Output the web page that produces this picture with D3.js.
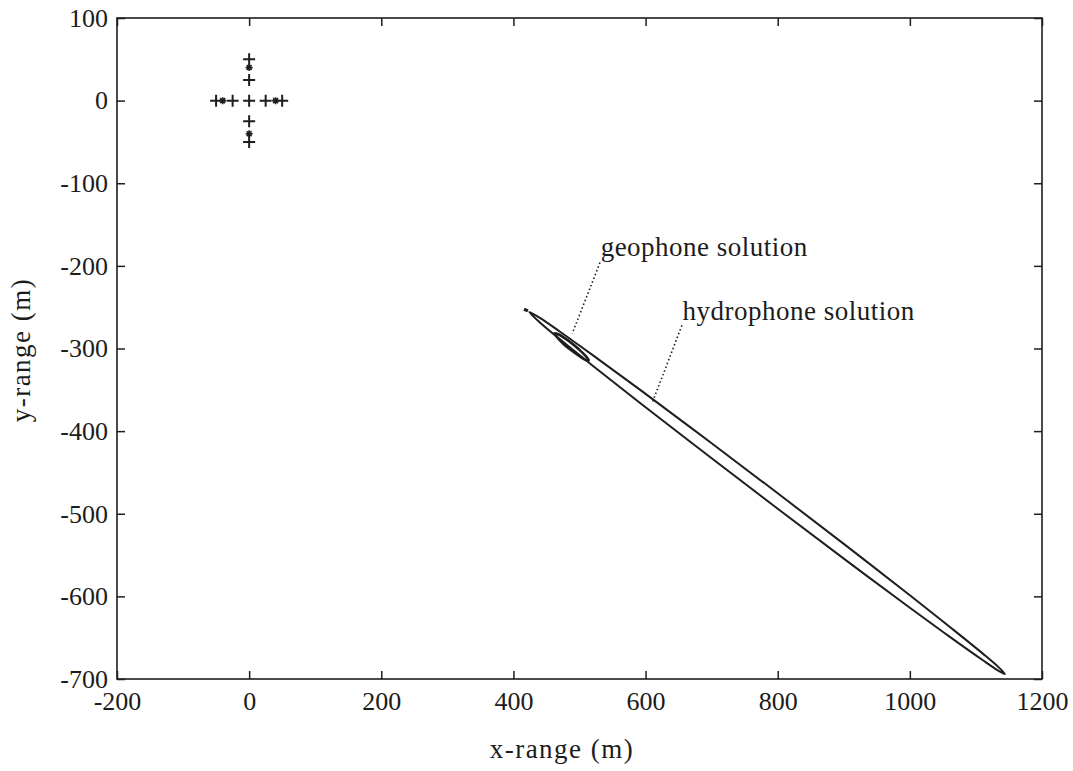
<!DOCTYPE html>
<html><head><meta charset="utf-8">
<script src="https://cdn.jsdelivr.net/npm/d3@7"></script>
<style>
body{margin:0;background:#fff}
text{font-family:"Liberation Serif","Times New Roman",serif;fill:#1c1c1c}
</style>
</head><body>
<svg id="c" width="1073" height="771"></svg>
<script>
// ---- data ----
const xTicks = [-200, 0, 200, 400, 600, 800, 1000, 1200];
const yTicks = [100, 0, -100, -200, -300, -400, -500, -600, -700];
const xLabel = "x-range (m)";
const yLabel = "y-range (m)";

// sensor array markers
const plusX = [0, 0, 0, 0, 0, -50, -25, 25, 50];
const plusY = [0, 50, 25, -25, -50, 0, 0, 0, 0];
const starX = [0, 0, -40, 40];
const starY = [40, -40, 0, 0];

// hydrophone solution contour
const hydroX = [424, 440, 470, 520, 600, 700, 800, 900, 1000, 1060, 1110, 1135, 1144,
                1135, 1110, 1060, 1000, 900, 800, 700, 600, 520, 470, 440];
const hydroY = [-256, -262.9, -279.4, -308, -354.9, -414.7, -475.2, -536.5, -598.7, -636.7, -669, -686.2, -694,
                -690.4, -677, -648.7, -613.7, -554.3, -494, -432.9, -371.1, -320.8, -288.6, -268.5];
const hydroTipX = [416, 422];
const hydroTipY = [-252.5, -254.5];

// geophone solution contour
const geoX = [462, 468, 477, 488, 499, 508, 514, 508, 499, 488, 477, 468];
const geoY = [-281.6, -282.8, -287.2, -293.5, -301, -307.9, -314.4, -313.5, -308.8, -302.5, -295.4, -288.2];

// annotations
const annText = ["geophone solution", "hydrophone solution"];
const annTextX = [532, 656];
const annTextY = [-188, -266];
const annLeadX1 = [531, 655];
const annLeadY1 = [-196, -272];
const annLeadX2 = [489, 610];
const annLeadY2 = [-282, -366];

// ---- layout ----
const svg = d3.select("#c");
const L = 117, R = 1042, T = 18, B = 679;
const x = d3.scaleLinear().domain([-200, 1200]).range([L, R]);
const y = d3.scaleLinear().domain([-700, 100]).range([B, T]);
const ink = "#1c1f1e";
const fmt = d => String(d);

// frame
svg.append("rect").attr("x", L).attr("y", T).attr("width", R - L).attr("height", B - T)
  .attr("fill", "none").attr("stroke", ink).attr("stroke-width", 1.6);

const tl = 8;
// axes with inward ticks
const gx = svg.append("g").attr("transform", `translate(0,${B})`)
  .call(d3.axisBottom(x).tickValues(xTicks).tickSizeInner(-tl).tickSizeOuter(0).tickPadding(11).tickFormat(fmt));
const gxt = svg.append("g").attr("transform", `translate(0,${T})`)
  .call(d3.axisTop(x).tickValues(xTicks).tickSizeInner(-tl).tickSizeOuter(0).tickFormat(""));
const gy = svg.append("g").attr("transform", `translate(${L},0)`)
  .call(d3.axisLeft(y).tickValues(yTicks).tickSizeInner(-tl).tickSizeOuter(0).tickPadding(9).tickFormat(fmt));
const gyr = svg.append("g").attr("transform", `translate(${R},0)`)
  .call(d3.axisRight(y).tickValues(yTicks).tickSizeInner(-tl).tickSizeOuter(0).tickFormat(""));
[gx, gxt, gy, gyr].forEach(g => {
  g.select(".domain").remove();
  g.selectAll("line").attr("stroke", ink).attr("stroke-width", 1.5);
  g.selectAll("text").attr("font-size", 26).attr("font-family", "Liberation Serif, serif").attr("fill", ink);
});
gx.selectAll("text").attr("dy", "0.75em");

// axis labels
svg.append("text").attr("x", 562).attr("y", 758).attr("text-anchor", "middle")
  .attr("font-size", 27).attr("letter-spacing", 1.5).text(xLabel);
svg.append("text").attr("transform", `translate(30,350) rotate(-90)`)
  .attr("text-anchor", "middle").attr("font-size", 27).attr("letter-spacing", 1.5).text(yLabel);

// markers
const g = svg.append("g").attr("stroke", ink).attr("fill", "none");
const ps = 6;
g.selectAll("path.plus").data(plusX.map((d, i) => [d, plusY[i]])).join("path")
  .attr("class", "plus").attr("stroke-width", 2)
  .attr("d", d => { const cx = x(d[0]), cy = y(d[1]);
    return `M${cx - ps},${cy}H${cx + ps}M${cx},${cy - ps}V${cy + ps}`; });
const ss = 3.5;
g.selectAll("path.star").data(starX.map((d, i) => [d, starY[i]])).join("path")
  .attr("class", "star").attr("stroke-width", 1.6)
  .attr("d", d => { const cx = x(d[0]), cy = y(d[1]);
    return `M${cx - ss},${cy}H${cx + ss}M${cx},${cy - ss}V${cy + ss}` +
           `M${cx - ss * .7},${cy - ss * .7}L${cx + ss * .7},${cy + ss * .7}M${cx - ss * .7},${cy + ss * .7}L${cx + ss * .7},${cy - ss * .7}`; });

// contours
svg.append("path").datum(hydroX.map((d, i) => [d, hydroY[i]]))
  .attr("d", d3.line().x(d => x(d[0])).y(d => y(d[1])).curve(d3.curveCatmullRomClosed))
  .attr("fill", "none").attr("stroke", ink).attr("stroke-width", 2);
svg.append("path").datum(hydroTipX.map((d, i) => [d, hydroTipY[i]]))
  .attr("d", d3.line().x(d => x(d[0])).y(d => y(d[1]))).attr("stroke", ink).attr("stroke-width", 3);
svg.append("path").datum(geoX.map((d, i) => [d, geoY[i]]))
  .attr("d", d3.line().x(d => x(d[0])).y(d => y(d[1])).curve(d3.curveCatmullRomClosed))
  .attr("fill", "none").attr("stroke", ink).attr("stroke-width", 2.6);

// annotations
annText.forEach((t, i) => {
  svg.append("line").attr("x1", x(annLeadX1[i])).attr("y1", y(annLeadY1[i]))
    .attr("x2", x(annLeadX2[i])).attr("y2", y(annLeadY2[i]))
    .attr("stroke", ink).attr("stroke-width", 1.6).attr("stroke-dasharray", "1.5,2.5");
  svg.append("text").attr("x", x(annTextX[i])).attr("y", y(annTextY[i]))
    .attr("font-size", 27).attr("letter-spacing", 0.5).text(t);
});
</script>
</body></html>
